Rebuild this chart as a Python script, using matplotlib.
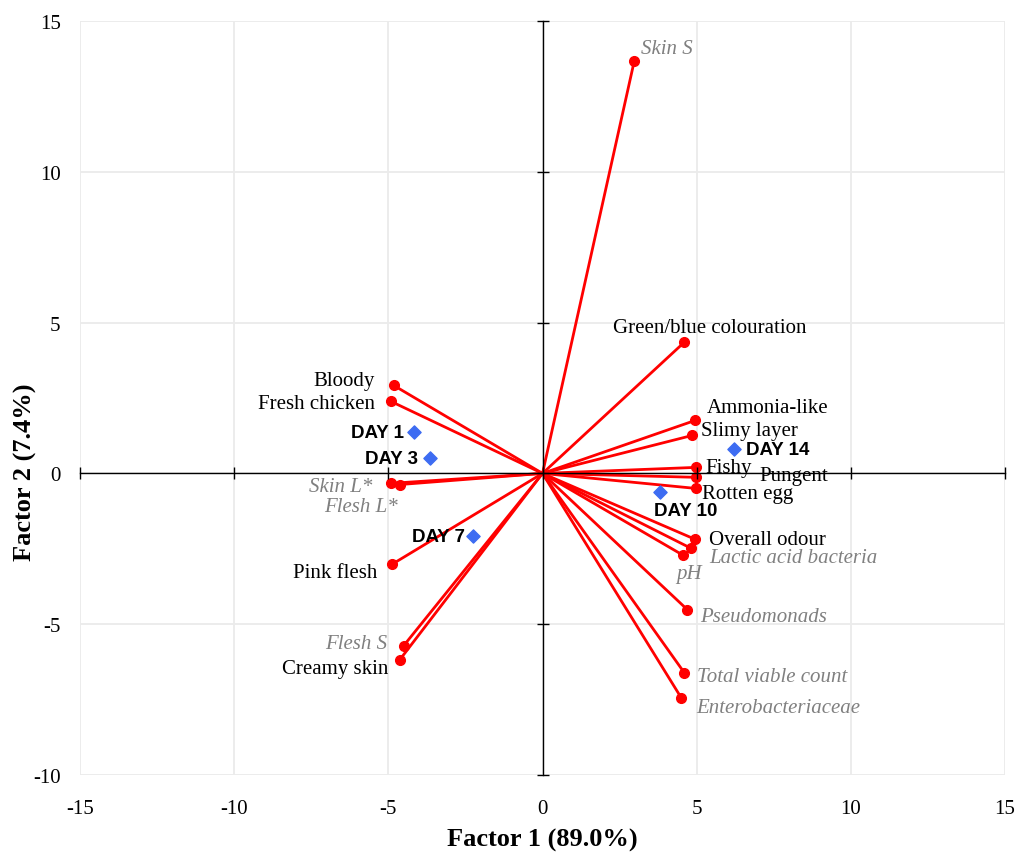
import matplotlib.pyplot as plt

plt.rcParams["axes.unicode_minus"] = False

# loadings: attribute vectors from origin
attr_names = ["Skin S", "Green/blue colouration", "Bloody", "Fresh chicken", "Skin L*",
              "Flesh L*", "Pink flesh", "Flesh S", "Creamy skin", "Ammonia-like",
              "Slimy layer", "Fishy", "Pungent", "Rotten egg", "Overall odour",
              "Lactic acid bacteria", "pH", "Pseudomonads", "Total viable count",
              "Enterobacteriaceae"]
attr_f1 = [2.98, 4.60, -4.83, -4.92, -4.92, -4.63, -4.89, -4.50, -4.63, 4.96,
           4.86, 4.99, 4.99, 4.99, 4.96, 4.83, 4.57, 4.70, 4.60, 4.50]
attr_f2 = [13.69, 4.35, 2.92, 2.39, -0.33, -0.37, -3.02, -5.71, -6.18, 1.76,
           1.26, 0.20, -0.13, -0.50, -2.19, -2.49, -2.72, -4.52, -6.61, -7.44]
# instrumental / microbial variables are drawn grey italic
attr_measured = [True, False, False, False, True, True, False, True, False, False,
                 False, False, False, False, False, True, True, True, True, True]

# scores: storage days
day_names = ["DAY 1", "DAY 3", "DAY 7", "DAY 10", "DAY 14"]
day_f1 = [-4.18, -3.66, -2.24, 3.82, 6.22]
day_f2 = [1.36, 0.50, -2.06, -0.63, 0.80]

# label placement (ha, dx px, dy px)
attr_pos = [("left", 7, 12), ("center", 25, 15), ("right", -19, 5), ("right", -16, -2),
            ("right", -18, -3), ("right", -2, -22), ("right", -14, -8), ("right", -17, 2),
            ("right", -11, -9), ("left", 11, 13), ("left", 9, 5), ("left", 9, 0),
            ("left", 63, 2), ("left", 6, -5), ("left", 14, 0), ("left", 18, -9),
            ("left", -7, -18), ("left", 13, -7), ("left", 13, -4), ("left", 15, -10)]
day_pos = [("right", -10, 0), ("right", -12, 0), ("right", -8, -1),
           ("center", 25, -18), ("left", 12, 0)]

serif = "Liberation Serif"
fig = plt.figure(figsize=(10.19, 8.53), dpi=100)
rect = [80 / 1019, 1 - 776 / 853, 925 / 1019, 754 / 853]
ax = fig.add_axes(rect)
ax.set_xlim(-15, 15)
ax.set_ylim(-10, 15)
ax.set_xticks(range(-15, 16, 5))
ax.set_yticks(range(-10, 16, 5))
ax.grid(True, color="#ebebeb", lw=1.3)
ax.set_axisbelow(True)
for s in ax.spines.values():
    s.set_visible(False)
ax.tick_params(length=0, labelsize=15)
ax.tick_params(axis="x", pad=17)
ax.tick_params(axis="y", pad=14)
for lab in ax.get_xticklabels() + ax.get_yticklabels():
    lab.set_fontfamily(serif)
ax.set_xlabel("Factor 1 (89.0%)", fontsize=19, fontweight="bold", family=serif)
ax.set_ylabel("Factor 2 (7.4%)", fontsize=19, fontweight="bold", family=serif)
ax.xaxis.set_label_coords(0.5, -0.070)
ax.yaxis.set_label_coords(-0.047, 0.403)

# zero axes with crossing tick marks
ax2 = fig.add_axes(rect, sharex=ax, sharey=ax)
ax2.patch.set_visible(False)
ax2.spines["left"].set_position(("data", 0))
ax2.spines["bottom"].set_position(("data", 0))
ax2.spines["top"].set_visible(False)
ax2.spines["right"].set_visible(False)
for s in ("left", "bottom"):
    ax2.spines[s].set_linewidth(1.0)
ax2.tick_params(direction="inout", length=9, width=1, labelleft=False, labelbottom=False)

for x, y in zip(attr_f1, attr_f2):
    ax.plot([0, x], [0, y], color="red", lw=2, marker="o", markersize=7,
            markevery=[1], zorder=3)
ax.scatter(day_f1, day_f2, marker="D", s=45, color="#3d6cf2", zorder=4)

for name, x, y, grey, (ha, dx, dy) in zip(attr_names, attr_f1, attr_f2, attr_measured, attr_pos):
    ax.annotate(name, (x, y), xytext=(dx, dy), textcoords="offset pixels",
                ha=ha, va="center", fontsize=15, family=serif,
                color="#808080" if grey else "black",
                style="italic" if grey else "normal", zorder=5)

for name, x, y, (ha, dx, dy) in zip(day_names, day_f1, day_f2, day_pos):
    ax.annotate(name, (x, y), xytext=(dx, dy), textcoords="offset pixels",
                ha=ha, va="center", fontsize=13.5, family="Liberation Sans",
                fontweight="bold", color="black", zorder=5)

fig.savefig("out.png", dpi=100)
